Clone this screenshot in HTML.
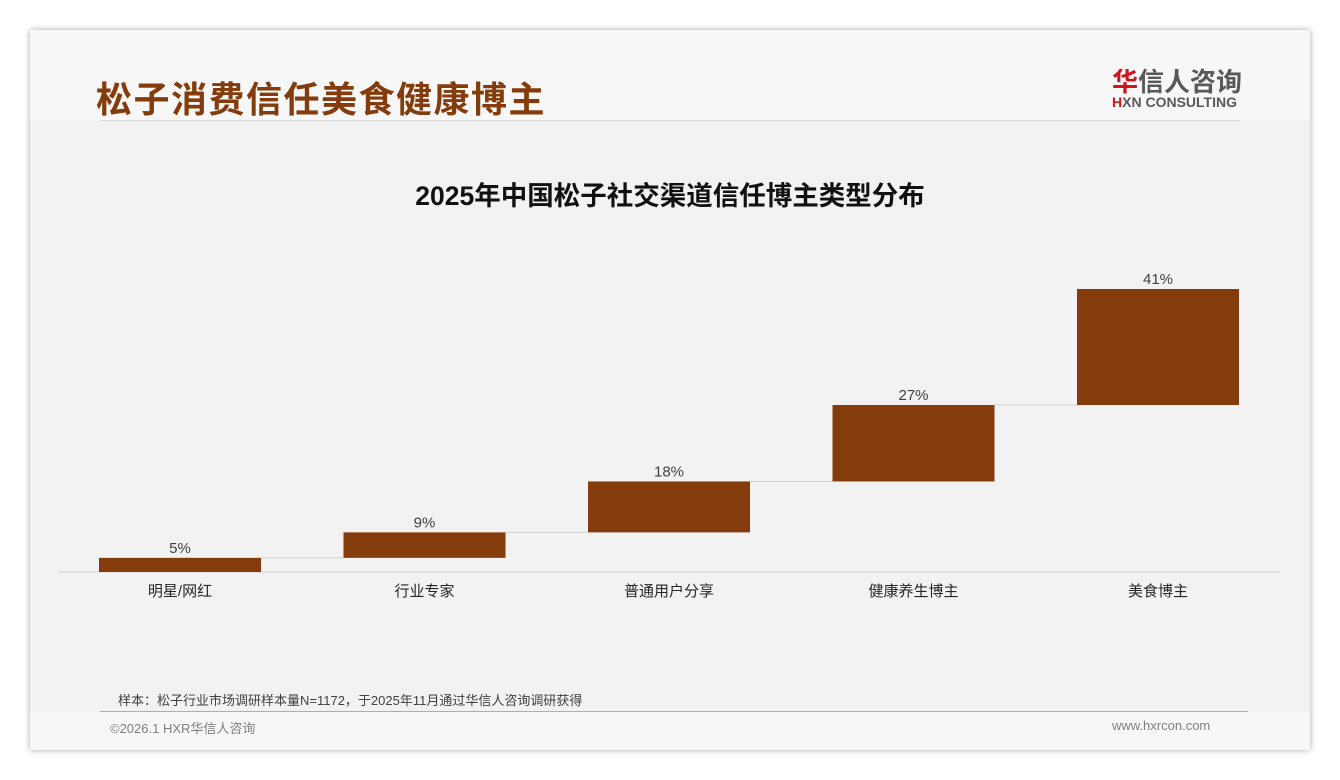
<!DOCTYPE html>
<html><head><meta charset="utf-8"><style>
body{margin:0;width:1340px;height:780px;background:#fff;font-family:"Liberation Sans","Noto Sans CJK SC",sans-serif;position:relative;overflow:hidden}
#card{position:absolute;left:30px;top:30px;width:1280px;height:720px;background:#f7f7f7;box-shadow:0 0 6px rgba(0,0,0,.35)}
#plot{position:absolute;left:0;top:90px;width:1280px;height:592px;background:#f2f2f2}
.t{position:absolute;white-space:nowrap}
</style></head><body>
<div id="card">
<div id="plot"></div>
</div>
<div class="t" style="left:96px;top:71px;font-size:36px;font-weight:bold;color:#843c0c;letter-spacing:1.5px">松子消费信任美食健康博主</div>
<div class="t" style="left:1112px;top:62px;font-size:26px;font-weight:bold;color:#595959"><span style="color:#d0141b">华</span>信人咨询</div>
<div class="t" style="left:1112px;top:94px;font-size:14px;font-weight:bold;color:#595959"><span style="color:#d0141b">H</span>XN CONSULTING</div>
<div style="position:absolute;left:100px;top:120px;width:1140px;height:1px;background:#d9d9d9"></div>
<div class="t" style="left:0;width:1340px;text-align:center;top:174px;font-size:26.5px;font-weight:bold;color:#111">2025年中国松子社交渠道信任博主类型分布</div>
<svg id="chart" width="1340" height="780" style="position:absolute;left:0;top:0"></svg>
<div class="t" style="left:118px;top:690px;font-size:13px;color:#404040">样本：松子行业市场调研样本量N=1172，于2025年11月通过华信人咨询调研获得</div>
<div style="position:absolute;left:100px;top:711px;width:1148px;height:1px;background:#c9a78f"></div>
<div class="t" style="left:110px;top:718px;font-size:13px;color:#7f7f7f">©2026.1 HXR华信人咨询</div>
<div class="t" style="left:1112px;top:718px;font-size:13px;color:#7f7f7f">www.hxrcon.com</div>
<script>
const categories=["明星/网红","行业专家","普通用户分享","健康养生博主","美食博主"];
const values=[5,9,18,27,41];
const labels=["5%","9%","18%","27%","41%"];
const svg=document.getElementById('chart');const NS='http://www.w3.org/2000/svg';
const base=572,scale=2.83,x0=180,step=244.5,bw=162;
const yv=v=>base-v*scale;const xc=i=>x0+i*step;
function mk(t,a){const e=document.createElementNS(NS,t);for(const k in a)e.setAttribute(k,a[k]);svg.appendChild(e);return e;}
const ax=mk('line',{x1:58,x2:1280,y1:base,y2:base,stroke:'#d0d0d0','stroke-width':1});


let cum=0;
values.forEach((v,i)=>{
 const y1=yv(cum),y2=yv(cum+v);
 const r=mk('rect',{x:xc(i)-bw/2,y:y2,width:bw,height:y1-y2,fill:'#843c0c'});
 
 
 if(i<values.length-1){const c=mk('line',{x1:xc(i)+bw/2,x2:xc(i+1)-bw/2,y1:y2,y2:y2,stroke:'#d0d0d0','stroke-width':1});
 
 }
 const t=mk('text',{x:xc(i),y:y2-5,'text-anchor':'middle','font-size':15,fill:'#404040'});t.textContent=labels[i];
 
 
 const c2=mk('text',{x:xc(i),y:base+24,'text-anchor':'middle','font-size':15,fill:'#262626'});c2.textContent=categories[i];
 
 
 cum+=v;
});
</script>
</body></html>
